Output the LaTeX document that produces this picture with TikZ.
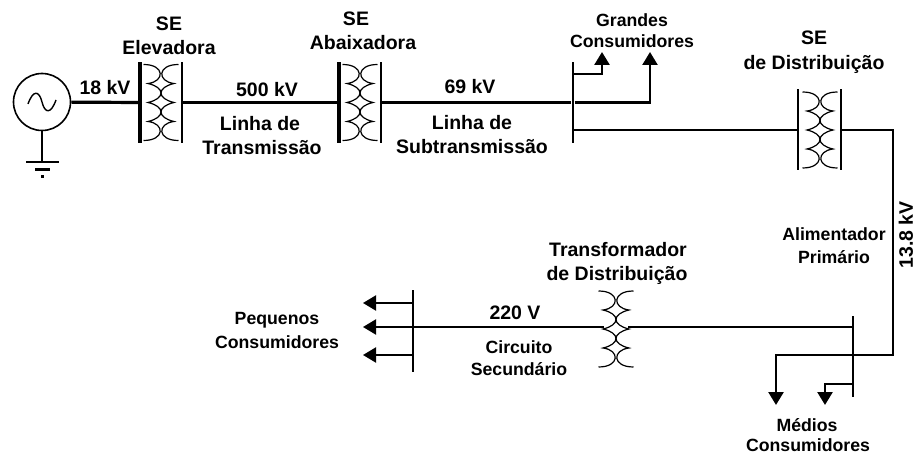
\documentclass[tikz,border=0pt]{standalone}
\usepackage{fontspec}
\setmainfont{Liberation Sans}
\usetikzlibrary{arrows.meta}
\tikzset{
  x=1pt,y=-1pt,
  lbl/.style={inner sep=0pt,align=center,font=\fontsize{19.5}{21}\selectfont\bfseries},
  lbs/.style={inner sep=0pt,align=center,font=\fontsize{17.7}{20}\selectfont\bfseries},
  busA/.style={draw=none,fill=black,inner sep=0pt,minimum width=3.8pt,minimum height=81pt},
  busB/.style={draw=none,fill=black,inner sep=0pt,minimum width=2.4pt,minimum height=81pt},
  heavy/.style={line width=3.2pt,line join=miter},
  medium/.style={line width=2.4pt,line join=miter},
  load/.style={-{Triangle[length=13pt,width=15pt]},line width=2.6pt,line join=miter},
  coil/.style={line width=1.2pt},
  xfmr/.pic={
    \foreach \s in {-1,1}{
      \draw[coil] (\s*17.5,-38) .. controls (\s*-4,-38) and (\s*-4,-21) .. (\s*13,-19)
        .. controls (\s*-4.3,-15) and (\s*-4.3,-4) .. (\s*13,0)
        .. controls (\s*-4.3,4) and (\s*-4.3,15) .. (\s*13,19)
        .. controls (\s*-4,21) and (\s*-4,38) .. (\s*17.5,38);
    }
  }
}
\begin{document}
\begin{tikzpicture}
\useasboundingbox (0,0) rectangle (916,454);
% generator
\node[draw,circle,line width=1.6pt,minimum size=57pt,inner sep=0pt] (gen) at (42,102) {};
\draw[line width=1.4pt] (28,104) .. controls (33,90) and (39,90) .. (42,102) .. controls (45,114) and (51,114) .. (56,100);
\coordinate (gnd) at (42,162);
\draw[medium] (gen) -- (gnd);
\node[fill=black,inner sep=0pt,minimum width=33pt,minimum height=2.2pt] (g1) at (42,162) {};
\node[fill=black,inner sep=0pt,minimum width=15pt,minimum height=3pt] (g2) at (42,170) {};
\node[fill=black,inner sep=0pt,minimum width=3pt,minimum height=3pt] (g3) at (42,177) {};
% buses
\node[busA] (b1) at (140,102.5) {};
\node[busB] (b1r) at (182,102.5) {};
\node[busA] (b2) at (339,102.5) {};
\node[busB] (b2r) at (381,102.5) {};
\node[busB,minimum width=2.8pt] (b3) at (573,102.5) {};
\node[busB] (b4) at (798,130) {};
\node[busB] (b4r) at (841,130) {};
\node[busB,minimum width=2.8pt] (b5) at (853,356.5) {};
\node[busB,minimum height=82pt] (b6) at (413,331) {};
% transformers
\pic at (161,102.5) {xfmr};
\pic at (360,102.5) {xfmr};
\pic at (820,130) {xfmr};
\pic at (616,329) {xfmr};
% lines
\draw[heavy] (gen) -- (b1);
\draw[heavy] (b1r) -- (b2);
\draw[medium,line width=2.8pt] (b2r) -- (b3);
\coordinate (a1) at (573,74);  \coordinate (a2) at (602,74); \coordinate (a3) at (602,52);
\coordinate (c1) at (650,102.5); \coordinate (c3) at (650,52);
\draw[load] (a1) -- (a2) -- (a3);
\draw[load,line width=2.4pt] (b3) -- (c1) -- (c3);
\coordinate (d1) at (573,130);
\draw[medium] (d1) -- (b4);
\coordinate (e1) at (893,130); \coordinate (e2) at (893,355); \coordinate (e3) at (776,355); \coordinate (e4) at (776,405);
\draw[load] (b4r) -- (e1) -- (e2) -- (e3) -- (e4);
\coordinate (f1) at (853,384); \coordinate (f2) at (825,384); \coordinate (f3) at (825,405);
\draw[load] (f1) -- (f2) -- (f3);
\coordinate (t1) at (628,327); \coordinate (t2) at (604,327); \coordinate (t3) at (853,327); \coordinate (t4) at (413,327);
\draw[medium] (t3) -- (t1);
\draw[medium] (t2) -- (t4);
\coordinate (h1) at (413,303); \coordinate (h2) at (363,303);
\coordinate (i2) at (363,327);
\coordinate (j1) at (413,355); \coordinate (j2) at (363,355);
\draw[load,line width=2.2pt] (h1) -- (h2);
\draw[load,line width=2.2pt] (t4) -- (i2);
\draw[load,line width=2.2pt] (j1) -- (j2);
% labels
\node[lbl] (l1) at (169,24) {SE};
\node[lbl] (l2) at (169,48) {Elevadora};
\node[lbl] (l3) at (105,88) {18 kV};
\node[lbl] (l4) at (267,90) {500 kV};
\node[lbl] (l5) at (260,124) {Linha de};
\node[lbl] (l6) at (262,148) {Transmissão};
\node[lbl] (l7) at (356,19) {SE};
\node[lbl] (l8) at (363,43) {Abaixadora};
\node[lbl] (l9) at (470,87) {69 kV};
\node[lbl] (l10) at (472,123) {Linha de};
\node[lbl] (l11) at (472,147) {Subtransmissão};
\node[lbs] (l12) at (632,20) {Grandes};
\node[lbs] (l13) at (632,41) {Consumidores};
\node[lbl] (l14) at (814,38) {SE};
\node[lbl] (l15) at (814,64) {de Distribuição};
\node[lbs] (l16) at (834,234) {Alimentador};
\node[lbs] (l17) at (834,257) {Primário};
\node[lbl,rotate=90] (l18) at (906,235) {13.8 kV};
\node[lbl] (l19) at (618,250) {Transformador};
\node[lbl] (l20) at (617,275) {de Distribuição};
\node[lbl] (l21) at (515,313) {220 V};
\node[lbs] (l22) at (519,347) {Circuito};
\node[lbs] (l23) at (519,369) {Secundário};
\node[lbs] (l24) at (277,320) {Pequenos};
\node[lbs] (l25) at (277,342) {Consumidores};
\node[lbs] (l26) at (807,425) {Médios};
\node[lbs] (l27) at (808,445) {Consumidores};
\end{tikzpicture}
\end{document}
